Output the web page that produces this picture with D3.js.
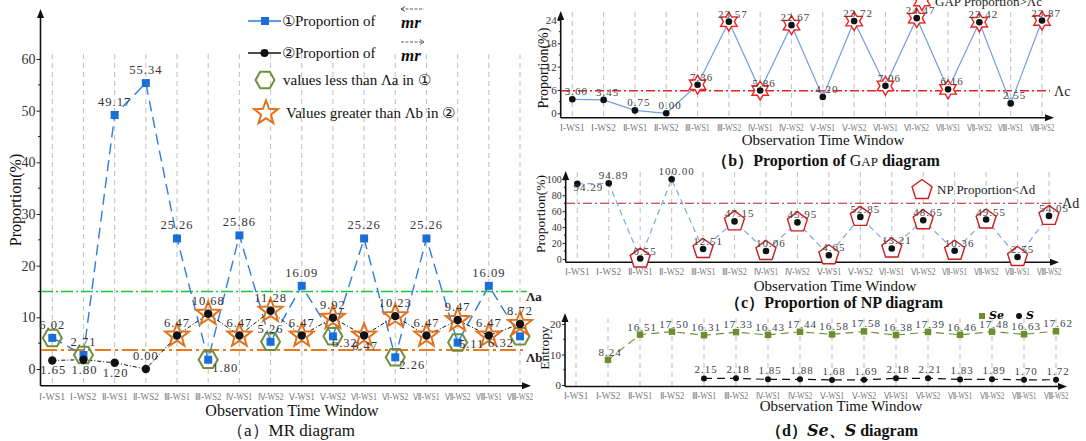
<!DOCTYPE html>
<html>
<head>
<meta charset="utf-8">
<script src="https://cdn.jsdelivr.net/npm/d3@7"></script>
<style>
body { margin: 0; background: #fff; }
svg { display: block; font-family: "Liberation Serif", "Times New Roman", serif; }
</style>
</head>
<body>
<svg id="plotarea" width="1086" height="441"></svg>
<script>
// observation windows (shared by all four panels)
var windows = ["Ⅰ-WS1","Ⅰ-WS2","Ⅱ-WS1","Ⅱ-WS2","Ⅲ-WS1","Ⅲ-WS2","Ⅳ-WS1","Ⅳ-WS2",
               "Ⅴ-WS1","Ⅴ-WS2","Ⅵ-WS1","Ⅵ-WS2","Ⅶ-WS1","Ⅶ-WS2","Ⅷ-WS1","Ⅷ-WS2"];

// (a) MR
var mrLeft  = [6.02, 2.71, 49.17, 55.34, 25.26, 1.80, 25.86, 5.26, 16.09, 6.32, 25.26, 2.26, 25.26, 5.11, 16.09, 6.32];
var mrRight = [1.65, 1.80, 1.20, 0.00, 6.47, 10.68, 6.47, 11.28, 6.47, 9.92, 6.47, 10.23, 6.47, 9.47, 6.47, 8.72];
var lambdaA = 15;
var lambdaB = 3.7;
var mrTicks = [0, 10, 20, 30, 40, 50, 60];

// (b) GAP
var gap = [3.60, 3.45, 0.75, 0.00, 7.36, 23.57, 5.86, 22.67, 4.20, 23.72, 7.06, 24.47, 6.16, 23.42, 2.55, 23.87];
var lambdaC = 5.8;
var gapTicks = [0, 6, 12, 18, 24];

// (c) NP
var np = [94.29, 94.89, 0.55, 100.00, 12.51, 47.15, 10.06, 45.95, 4.65, 52.85, 13.21, 48.65, 10.36, 49.55, 2.55, 54.05];
var lambdaD = 70;
var npTicks = [0, 20, 40, 60, 80, 100];

// (d) Se and S
var se = [null, 8.24, 16.51, 17.50, 16.31, 17.33, 16.43, 17.44, 16.58, 17.58, 16.38, 17.39, 16.46, 17.48, 16.63, 17.62];
var sEnt = [null, null, null, null, 2.15, 2.18, 1.85, 1.88, 1.68, 1.69, 2.18, 2.21, 1.83, 1.89, 1.70, 1.72];
var entTicks = [0, 10, 20];

// label placement codes (layout only)
var mrLeftPos  = ["a","a","a","a","a","br","a","a","a","bs","a","br","a","r","a","l"];
var mrRightPos = ["b","b","b","a","a","a","a","a","a","a","b","a","a","a","a","a"];
var npPos      = ["r","a","a","a","a","a","a","a","a","a","a","a","a","a","a","a"];
var offA = {a: [0, -9], b: [1, 14], br: [17, 12], bs: [12, 11], r: [14, 5], l: [-19, 11]};

var svg = d3.select("#plotarea");

function polyPath(n, rOut, rIn, rot) {
    var pts = [];
    var k = rIn ? n * 2 : n;
    for (var i = 0; i < k; i++) {
        var r = rIn ? (i % 2 == 0 ? rOut : rIn) : rOut;
        var ang = rot + i * 2 * Math.PI / k;
        pts.push([r * Math.cos(ang), r * Math.sin(ang)]);
    }
    return "M" + pts.map(function(p) { return p[0].toFixed(2) + "," + p[1].toFixed(2); }).join("L") + "Z";
}
var hexPath = polyPath(6, 9.5, 0, 0);
var starPath = polyPath(5, 12.5, 5.2, -Math.PI / 2);
var hexagramPath = polyPath(6, 9.5, 5.5, -Math.PI / 2);
var pentaPath = polyPath(5, 10.5, 0, -Math.PI / 2);

// axes with arrow heads, dashed grid, category labels
function frame(cfg) {
    var g = svg.append("g");
    g.selectAll(".grid").data(windows).enter().append("line")
        .attr("x1", function(d) { return cfg.x(d); })
        .attr("x2", function(d) { return cfg.x(d); })
        .attr("y1", cfg.gridTop).attr("y2", cfg.axisY)
        .attr("stroke", "#c4c4c4").attr("stroke-width", 1.1)
        .attr("stroke-dasharray", "5,4");

    var ax = g.append("g").attr("transform", "translate(" + cfg.axisX + ",0)")
        .call(d3.axisLeft(cfg.y).tickValues(cfg.ticks).tickSize(cfg.tick).tickPadding(1));
    ax.select(".domain").remove();
    ax.selectAll("text").attr("font-family", "Liberation Serif, serif")
        .attr("font-size", cfg.tickFont).attr("fill", "#333");
    ax.selectAll("line").attr("stroke", "#222");
    var minor = [];
    for (var i = 0; i < cfg.ticks.length - 1; i++) minor.push((cfg.ticks[i] + cfg.ticks[i + 1]) / 2);
    g.selectAll(".minor").data(minor).enter().append("line")
        .attr("x1", cfg.axisX - cfg.tick * 0.6).attr("x2", cfg.axisX)
        .attr("y1", function(d) { return cfg.y(d); })
        .attr("y2", function(d) { return cfg.y(d); })
        .attr("stroke", "#222");

    g.append("line").attr("x1", cfg.axisX).attr("x2", cfg.axisX)
        .attr("y1", cfg.axisY).attr("y2", cfg.top + 6)
        .attr("stroke", "#111").attr("stroke-width", 1.6);
    g.append("line").attr("x1", cfg.axisX).attr("x2", cfg.xEnd - 6)
        .attr("y1", cfg.axisY).attr("y2", cfg.axisY)
        .attr("stroke", "#111").attr("stroke-width", 1.6);
    g.append("path").attr("fill", "#111")
        .attr("d", "M" + cfg.axisX + "," + cfg.top + "l-3.5,9h7z");
    g.append("path").attr("fill", "#111")
        .attr("d", "M" + cfg.xEnd + "," + cfg.axisY + "l-9,-3.5v7z");

    g.selectAll(".xl").data(windows).enter().append("text")
        .attr("x", function(d) { return cfg.x(d); })
        .attr("y", cfg.xLabelY)
        .attr("text-anchor", "middle")
        .attr("font-size", cfg.xFont).attr("fill", "#7a7a7a")
        .attr("textLength", cfg.xFont * 2.6).attr("lengthAdjust", "spacingAndGlyphs")
        .text(function(d) { return d; });

    g.append("text")
        .attr("transform", "translate(" + cfg.yTitleX + "," + cfg.yTitleY + ") rotate(-90)")
        .attr("text-anchor", "middle").attr("font-size", cfg.yTitleFont).attr("fill", "#111")
        .text(cfg.yTitle);
    g.append("text").attr("x", cfg.obsX).attr("y", cfg.obsY)
        .attr("text-anchor", "middle").attr("font-size", cfg.obsFont).attr("fill", "#111")
        .text("Observation Time Window");
    return g;
}

function valueLabels(g, x, y, vals, pos, offs, size, fill) {
    g.selectAll(null).data(windows.filter(function(d, i) { return vals[i] != null; }))
        .enter().append("text")
        .attr("x", function(d) { var i = windows.indexOf(d); return x(d) + offs[pos ? pos[i] : "a"][0]; })
        .attr("y", function(d) { var i = windows.indexOf(d); return y(vals[i]) + offs[pos ? pos[i] : "a"][1]; })
        .attr("text-anchor", "middle").attr("font-size", size)
        .attr("letter-spacing", 1).attr("fill", fill || "#333")
        .text(function(d) { return vals[windows.indexOf(d)].toFixed(2); });
}

function lineOf(x, y, vals) {
    return d3.line()
        .defined(function(d, i) { return vals[i] != null; })
        .x(function(d) { return x(d); })
        .y(function(d, i) { return y(vals[i]); })(windows);
}

function pts(vals) {
    return windows.filter(function(d, i) { return vals[i] != null; });
}

// ---------------- (a) MR diagram ----------------
var xa = d3.scalePoint().domain(windows).range([52.3, 520]);
var ya = d3.scaleLinear().domain([0, 60]).range([369, 59]);
var ga = frame({x: xa, y: ya, ticks: mrTicks, tick: 4, tickFont: 14, axisX: 40.5, axisY: 385.7,
    top: 9, xEnd: 531, gridTop: 54, xLabelY: 400, xFont: 10,
    yTitle: "Proportion(%)", yTitleX: 21, yTitleY: 200, yTitleFont: 16,
    obsX: 292, obsY: 416, obsFont: 16});

ga.append("line").attr("x1", 41).attr("x2", 527)
    .attr("y1", ya(lambdaA)).attr("y2", ya(lambdaA))
    .attr("stroke", "#1fc43a").attr("stroke-width", 1.5).attr("stroke-dasharray", "12,3,2,3");
ga.append("line").attr("x1", 41).attr("x2", 527)
    .attr("y1", ya(lambdaB)).attr("y2", ya(lambdaB))
    .attr("stroke", "#ec7a1c").attr("stroke-width", 2).attr("stroke-dasharray", "16,4,3,4");
ga.append("text").attr("x", 526).attr("y", ya(lambdaA) + 9).attr("font-size", 13)
    .attr("font-weight", "bold").attr("fill", "#222").text("Λa");
ga.append("text").attr("x", 526).attr("y", ya(lambdaB) + 12).attr("font-size", 13)
    .attr("font-weight", "bold").attr("fill", "#222").text("Λb");

ga.append("path").attr("d", lineOf(xa, ya, mrLeft)).attr("fill", "none")
    .attr("stroke", "#2b7de0").attr("stroke-width", 1.4).attr("stroke-dasharray", "11,6");
ga.append("path").attr("d", lineOf(xa, ya, mrRight)).attr("fill", "none")
    .attr("stroke", "#111").attr("stroke-width", 1).attr("stroke-dasharray", "4,2,1,2");

ga.selectAll(".hex").data(windows.filter(function(d, i) { return mrLeft[i] < lambdaA; }))
    .enter().append("path").attr("d", hexPath)
    .attr("transform", function(d) { return "translate(" + xa(d) + "," + ya(mrLeft[windows.indexOf(d)]) + ")"; })
    .attr("fill", "none").attr("stroke", "#6e8f3c").attr("stroke-width", 2);
ga.selectAll(".star").data(windows.filter(function(d, i) { return mrRight[i] > lambdaB; }))
    .enter().append("path").attr("d", starPath)
    .attr("transform", function(d) { return "translate(" + xa(d) + "," + ya(mrRight[windows.indexOf(d)]) + ")"; })
    .attr("fill", "none").attr("stroke", "#e4711a").attr("stroke-width", 2);

ga.selectAll(".sq").data(pts(mrLeft)).enter().append("path")
    .attr("d", d3.symbol().type(d3.symbolSquare).size(64))
    .attr("transform", function(d) { return "translate(" + xa(d) + "," + ya(mrLeft[windows.indexOf(d)]) + ")"; })
    .attr("fill", "#1a6ed8");
ga.selectAll(".dot").data(pts(mrRight)).enter().append("circle")
    .attr("cx", function(d) { return xa(d); })
    .attr("cy", function(d) { return ya(mrRight[windows.indexOf(d)]); })
    .attr("r", 4.2).attr("fill", "#111");

valueLabels(ga, xa, ya, mrLeft, mrLeftPos, offA, 12.5);
valueLabels(ga, xa, ya, mrRight, mrRightPos, offA, 12.5);

// legend (a)
var lg = svg.append("g").attr("font-size", 15).attr("fill", "#111");
lg.append("line").attr("x1", 248).attr("x2", 281).attr("y1", 21).attr("y2", 21).attr("stroke", "#2b7de0").attr("stroke-width", 1.5);
lg.append("rect").attr("x", 261).attr("y", 17).attr("width", 8).attr("height", 8).attr("fill", "#1a6ed8");
lg.append("text").attr("x", 282).attr("y", 26).text("①Proportion of");
lg.append("line").attr("x1", 248).attr("x2", 281).attr("y1", 53).attr("y2", 53).attr("stroke", "#111").attr("stroke-width", 1.5);
lg.append("circle").attr("cx", 264.5).attr("cy", 53).attr("r", 4).attr("fill", "#111");
lg.append("text").attr("x", 282).attr("y", 58).text("②Proportion of");
[[28, 9, -1], [61, 42, 1]].forEach(function(m) {
    lg.append("text").attr("x", 401).attr("y", m[0]).attr("font-size", 17)
        .attr("font-style", "italic").attr("font-weight", "bold").text("mr");
    lg.append("line").attr("x1", 401).attr("x2", 424).attr("y1", m[1]).attr("y2", m[1])
        .attr("stroke", "#333").attr("stroke-width", 0.8).attr("stroke-dasharray", "3,1.5");
    var tip = m[2] < 0 ? 401 : 424;
    lg.append("path").attr("fill", "none").attr("stroke", "#333").attr("stroke-width", 0.8)
        .attr("d", "M" + (tip - m[2] * 4) + "," + (m[1] - 2.5) + "L" + tip + "," + m[1] + "L" + (tip - m[2] * 4) + "," + (m[1] + 2.5));
});
lg.append("path").attr("d", hexPath).attr("transform", "translate(265,80)")
    .attr("fill", "none").attr("stroke", "#6e8f3c").attr("stroke-width", 2);
lg.append("text").attr("x", 283).attr("y", 85).text("values less than Λa in ①");
lg.append("path").attr("d", starPath).attr("transform", "translate(266,113)")
    .attr("fill", "none").attr("stroke", "#e4711a").attr("stroke-width", 2);
lg.append("text").attr("x", 286).attr("y", 118).text("Values greater than Λb in ②");

svg.append("text").attr("x", 291).attr("y", 436).attr("text-anchor", "middle")
    .attr("font-size", 17).attr("fill", "#111").text("（a）MR diagram");

// ---------------- (b) GAP ----------------
var xb = d3.scalePoint().domain(windows).range([572.3, 1042]);
var yb = d3.scaleLinear().domain([0, 24]).range([113.3, 20]);
var gb = frame({x: xb, y: yb, ticks: gapTicks, tick: 3, tickFont: 11, axisX: 560.7, axisY: 117.7,
    top: 11, xEnd: 1054, gridTop: 12, xLabelY: 131, xFont: 9.5,
    yTitle: "Proportion(%)", yTitleX: 548, yTitleY: 68, yTitleFont: 14,
    obsX: 823, obsY: 145, obsFont: 15});
gb.append("line").attr("x1", 561).attr("x2", 1050).attr("y1", yb(lambdaC)).attr("y2", yb(lambdaC))
    .attr("stroke", "#e02424").attr("stroke-width", 1.3).attr("stroke-dasharray", "9,3,2,3");
gb.append("text").attr("x", 1054).attr("y", yb(lambdaC) + 5).attr("font-size", 14).attr("fill", "#222").text("Λc");
gb.append("path").attr("d", lineOf(xb, yb, gap)).attr("fill", "none")
    .attr("stroke", "#6f9fe4").attr("stroke-width", 1.2);
gb.selectAll(".hg").data(windows.filter(function(d, i) { return gap[i] > lambdaC; }))
    .enter().append("path").attr("d", hexagramPath)
    .attr("transform", function(d) { return "translate(" + xb(d) + "," + yb(gap[windows.indexOf(d)]) + ")"; })
    .attr("fill", "#fff").attr("stroke", "#f02020").attr("stroke-width", 1.4);
gb.selectAll(".dot").data(pts(gap)).enter().append("circle")
    .attr("cx", function(d) { return xb(d); })
    .attr("cy", function(d) { return yb(gap[windows.indexOf(d)]); })
    .attr("r", 3.3).attr("fill", "#111");
valueLabels(gb, xb, yb, gap, null, {a: [4, -4]}, 11, "#444");
gb.append("path").attr("d", hexagramPath).attr("transform", "translate(922,1)")
    .attr("fill", "#fff").attr("stroke", "#f02020").attr("stroke-width", 1.4);
gb.append("text").attr("x", 935).attr("y", 6).attr("font-size", 13).attr("fill", "#222").text("GAP Proportion>Λc");

var tb = svg.append("text").attr("x", 826).attr("y", 166).attr("text-anchor", "middle")
    .attr("font-size", 16).attr("font-weight", "bold").attr("fill", "#111");
tb.append("tspan").text("（b）Proportion of ");
tb.append("tspan").attr("font-weight", "normal").text("G");
tb.append("tspan").attr("font-weight", "normal").attr("font-size", 13).text("AP");
tb.append("tspan").text(" diagram");

// ---------------- (c) NP ----------------
var xc = d3.scalePoint().domain(windows).range([577.3, 1049]);
var yc = d3.scaleLinear().domain([0, 100]).range([259, 179.3]);
var gc = frame({x: xc, y: yc, ticks: npTicks, tick: 3, tickFont: 10, axisX: 565.7, axisY: 262.3,
    top: 171, xEnd: 1059, gridTop: 172, xLabelY: 275, xFont: 9.5,
    yTitle: "Proportion(%)", yTitleX: 545, yTitleY: 214, yTitleFont: 13.5,
    obsX: 835, obsY: 291, obsFont: 15});
gc.append("line").attr("x1", 566).attr("x2", 1062).attr("y1", yc(lambdaD)).attr("y2", yc(lambdaD))
    .attr("stroke", "#b52020").attr("stroke-width", 1.1).attr("stroke-dasharray", "9,3,2,3");
gc.append("text").attr("x", 1062).attr("y", yc(lambdaD) + 5).attr("font-size", 14).attr("fill", "#222").text("Λd");
gc.append("path").attr("d", lineOf(xc, yc, np)).attr("fill", "none")
    .attr("stroke", "#7aa8e6").attr("stroke-width", 1.2).attr("stroke-dasharray", "6,4");
gc.selectAll(".pt").data(windows.filter(function(d, i) { return np[i] < lambdaD; }))
    .enter().append("path").attr("d", pentaPath)
    .attr("transform", function(d) { return "translate(" + xc(d) + "," + yc(np[windows.indexOf(d)]) + ")"; })
    .attr("fill", "#fff").attr("stroke", "#cc1c1c").attr("stroke-width", 1.4);
gc.selectAll(".dot").data(pts(np)).enter().append("circle")
    .attr("cx", function(d) { return xc(d); })
    .attr("cy", function(d) { return yc(np[windows.indexOf(d)]); })
    .attr("r", 3.3).attr("fill", "#111");
valueLabels(gc, xc, yc, np, npPos, {a: [5, -4], r: [11, 7]}, 11, "#444");
gc.append("path").attr("d", pentaPath).attr("transform", "translate(922,190)")
    .attr("fill", "#fff").attr("stroke", "#cc1c1c").attr("stroke-width", 1.4);
gc.append("text").attr("x", 937).attr("y", 194).attr("font-size", 13).attr("fill", "#222").text("NP Proportion<Λd");

svg.append("text").attr("x", 834).attr("y", 308).attr("text-anchor", "middle")
    .attr("font-size", 16).attr("font-weight", "bold").attr("fill", "#111")
    .text("（c）Proportion of NP diagram");

// ---------------- (d) Se, S ----------------
var xd = d3.scalePoint().domain(windows).range([576, 1056]);
var yd = d3.scaleLinear().domain([0, 20]).range([385, 324]);
var gd = frame({x: xd, y: yd, ticks: entTicks, tick: 3, tickFont: 11, axisX: 565, axisY: 386.5,
    top: 313, xEnd: 1067, gridTop: 318, xLabelY: 399, xFont: 9.5,
    yTitle: "Entropy", yTitleX: 549, yTitleY: 348, yTitleFont: 13.5,
    obsX: 841, obsY: 411, obsFont: 15});
gd.append("path").attr("d", lineOf(xd, yd, se)).attr("fill", "none")
    .attr("stroke", "#6b8f2e").attr("stroke-width", 1.1).attr("stroke-dasharray", "8,5");
gd.append("path").attr("d", lineOf(xd, yd, sEnt)).attr("fill", "none")
    .attr("stroke", "#111").attr("stroke-width", 1.2).attr("stroke-dasharray", "8,5");
gd.selectAll(".sq").data(pts(se)).enter().append("path")
    .attr("d", d3.symbol().type(d3.symbolSquare).size(42))
    .attr("transform", function(d) { return "translate(" + xd(d) + "," + yd(se[windows.indexOf(d)]) + ")"; })
    .attr("fill", "#6b8f2e");
gd.selectAll(".dot").data(pts(sEnt)).enter().append("circle")
    .attr("cx", function(d) { return xd(d); })
    .attr("cy", function(d) { return yd(sEnt[windows.indexOf(d)]); })
    .attr("r", 3).attr("fill", "#111");
valueLabels(gd, xd, yd, se, null, {a: [2, -4]}, 11, "#444");
valueLabels(gd, xd, yd, sEnt, null, {a: [2, -5]}, 11, "#444");
gd.append("rect").attr("x", 979).attr("y", 313).attr("width", 6).attr("height", 6).attr("fill", "#6b8f2e");
gd.append("text").attr("x", 989).attr("y", 319).attr("font-size", 11).attr("font-style", "italic")
    .attr("font-weight", "bold").attr("font-family", "DejaVu Serif, serif").text("Se");
gd.append("circle").attr("cx", 1019).attr("cy", 316).attr("r", 3).attr("fill", "#111");
gd.append("text").attr("x", 1026).attr("y", 319).attr("font-size", 11).attr("font-style", "italic")
    .attr("font-weight", "bold").attr("font-family", "DejaVu Serif, serif").text("S");

var td = svg.append("text").attr("x", 842).attr("y", 436).attr("text-anchor", "middle")
    .attr("font-size", 16).attr("font-weight", "bold").attr("fill", "#111");
td.append("tspan").text("（d）");
td.append("tspan").attr("font-style", "italic").attr("font-family", "DejaVu Serif, serif").text("Se");
td.append("tspan").text("、");
td.append("tspan").attr("font-style", "italic").attr("font-family", "DejaVu Serif, serif").text("S");
td.append("tspan").text(" diagram");
</script>
</body>
</html>
